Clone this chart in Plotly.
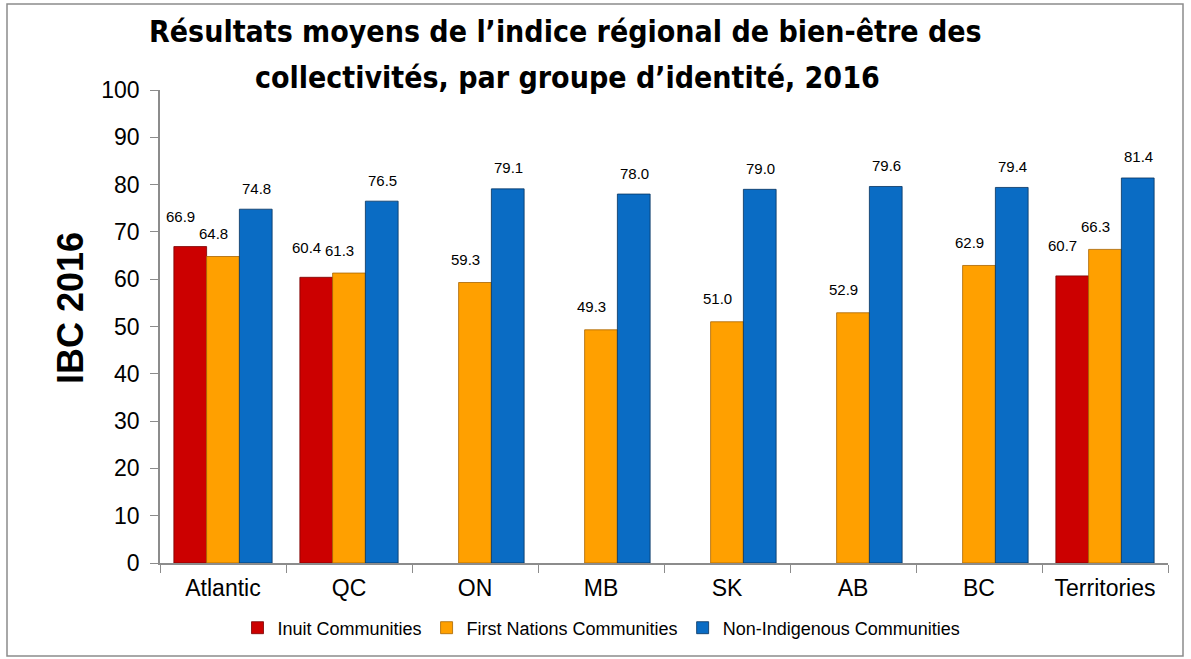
import plotly.graph_objects as go

# data
regions = ["Atlantic", "QC", "ON", "MB", "SK", "AB", "BC", "Territories"]
inuit = [66.9, 60.4, None, None, None, None, None, 60.7]
first_nations = [64.8, 61.3, 59.3, 49.3, 51.0, 52.9, 62.9, 66.3]
non_indigenous = [74.8, 76.5, 79.1, 78.0, 79.0, 79.6, 79.4, 81.4]

title_lines = [
    "Résultats moyens de l’indice régional de bien-être des",
    "collectivités, par groupe d’identité, 2016",
]

series = [
    ("Inuit Communities", inuit, "#CC0000", "#7A0000", -33, -10, 30),
    ("First Nations Communities", first_nations, "#FFA000", "#A86400", 0, -10, 23),
    ("Non-Indigenous Communities", non_indigenous, "#0A6CC4", "#06325E", 33, 0, 21),
]

W, H = 1191, 659
L, R, T, B = 160, 23, 90, 96
pw, ph = W - L - R, H - T - B


def px_x(x):
    return (x - L) / pw


def px_y(y):
    return (H - B - y) / ph


fig = go.Figure()
annotations = []

for name, vals, color, edge, slot, dx, dy in series:
    fig.add_trace(go.Bar(
        x=regions,
        y=vals,
        name=name,
        marker=dict(color=color, line=dict(color=edge, width=0.8)),
    ))
    # value labels sit a bit higher than plotly's own outside text
    for reg, v in zip(regions, vals):
        if v is None:
            continue
        annotations.append(dict(
            x=reg, y=v, xref="x", yref="y",
            text=f"{v:.1f}", showarrow=False,
            xshift=slot + dx, yshift=dy,
            font=dict(family="Arial, Liberation Sans", size=15, color="black"),
        ))

# title, two lines with the wide spacing of the original
title_font = dict(family="Liberation Sans Narrow, Arial Narrow, DejaVu Sans Condensed",
                  size=30, color="black", weight="bold")
for txt, cx, cy in zip(title_lines, [565, 567], [32, 78]):
    annotations.append(dict(
        x=px_x(cx), y=px_y(cy), xref="paper", yref="paper",
        text=txt, showarrow=False, xanchor="center", yanchor="middle",
        font=title_font,
    ))

# y axis title
annotations.append(dict(
    x=px_x(70), y=px_y(308), xref="paper", yref="paper",
    text="<b>IBC 2016</b>", showarrow=False, textangle=-90,
    xanchor="center", yanchor="middle",
    font=dict(family="Arial, Liberation Sans", size=36, color="black"),
))

fig.update_layout(
    width=W,
    height=H,
    margin=dict(l=L, r=R, t=T, b=B),
    paper_bgcolor="white",
    plot_bgcolor="white",
    barmode="group",
    bargap=0.22,
    bargroupgap=0,
    font=dict(family="Arial, Liberation Sans", color="black"),
    xaxis=dict(
        showline=True, linecolor="#8C8C8C", linewidth=1.5,
        ticks="outside", tickson="boundaries", ticklen=8, tickcolor="#8C8C8C",
        tickfont=dict(size=23),
        ticklabelstandoff=4,
        showgrid=False,
    ),
    yaxis=dict(
        range=[0, 100], dtick=10,
        showline=True, linecolor="#8C8C8C", linewidth=1.5,
        ticks="outside", ticklen=8, tickcolor="#8C8C8C",
        tickfont=dict(size=23),
        ticklabelstandoff=6,
        showgrid=False, zeroline=False,
    ),
    legend=dict(
        orientation="h",
        x=0.438, xanchor="center",
        y=px_y(628), yanchor="middle",
        font=dict(size=18),
        itemwidth=30,
    ),
    annotations=annotations,
    shapes=[dict(
        type="rect", xref="paper", yref="paper",
        x0=px_x(7), x1=px_x(1183), y0=px_y(656), y1=px_y(4),
        line=dict(color="#8C8C8C", width=1.5), fillcolor="rgba(0,0,0,0)",
    )],
)

# drop the browser's default body margin so the figure sits at 0,0
fig.write_html("out.html", config={"displayModeBar": False},
               post_script="document.body.style.margin='0';")
